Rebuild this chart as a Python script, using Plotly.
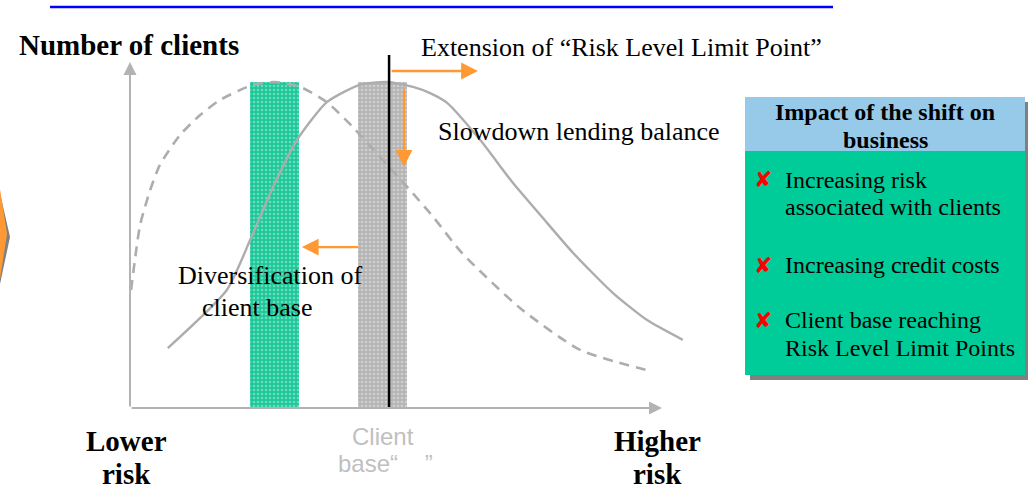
import plotly.graph_objects as go

# ---- data: client distribution over risk (risk 0-100, clients 0-100) ----
# current distribution (dashed) and shifted distribution (solid)
risk_current = [0.2, 1.9, 3.8, 5.6, 9.4, 13.2, 16.9, 23.1, 27.3, 32.0, 37.0, 41.9,
                47.0, 52.1, 57.0, 62.4, 73.3, 84.6, 97.7]
clients_current = [34.1, 52.9, 63.0, 70.2, 78.9, 84.7, 89.0, 93.4, 94.2, 92.8, 88.4,
                   81.2, 72.5, 63.9, 55.2, 44.8, 28.9, 16.8, 10.7]

risk_shifted = [7.1, 18.2, 22.6, 26.9, 31.4, 37.0, 43.2, 48.3, 53.2, 56.4, 59.6,
                65.8, 72.0, 78.4, 83.3, 90.8, 97.2, 103.9]
clients_shifted = [17.3, 34.1, 48.6, 63.9, 77.5, 88.4, 93.4, 94.2, 92.8, 91.0, 88.2,
                   77.5, 65.0, 53.5, 44.8, 33.2, 25.4, 19.7]

# client base bands: diversified (green) and current base (grey)
band_centers = [27.2, 47.5]
band_widths = [9.2, 9.2]
band_heights = [94.2, 94.2]
band_colors = ["#1CC898", "#B5B5B5"]

# risk level limit point
limit_point = 48.7
limit_top = 102.0

# arrows: (head_x, head_y, tail_x, tail_y)
shift_arrows = [
    (65.4, 97.4, 48.9, 97.4),   # extension of the limit point
    (51.5, 69.7, 51.5, 92.5),   # slowdown of lending balance
    (32.3, 46.5, 43.2, 46.5),   # diversification of client base
]

title_y = "Number of clients"
limit_label = "Extension of \u201cRisk Level Limit Point\u201d"
slowdown_label = "Slowdown lending balance"
divers_label = ["Diversification of", "client base"]
axis_low = ["Lower", "risk"]
axis_high = ["Higher", "risk"]
base_label = ["Client", "base\u201c    \u201d"]

box_title = ["Impact of the shift on", "business"]
box_items = [["Increasing risk", "associated with clients"],
             ["Increasing credit costs"],
             ["Client base reaching", "Risk Level Limit Points"]]

# ---- figure geometry ----
W, H = 1028, 490
X0, X100 = 130, 662      # pixel columns of risk 0 and 100
Y0, Y100 = 408, 62       # pixel rows of clients 0 and 100
sx = (X100 - X0) / 100
sy = (Y0 - Y100) / 100
x_range = [-X0 / sx, (W - X0) / sx]
y_range = [-(H - Y0) / sy, Y0 / sy]


def px(x):
    return x / W


def py(y):
    return 1 - y / H


SERIF = "Liberation Serif, Times New Roman, serif"
SANS = "Liberation Sans, Arial, sans-serif"
GREY = "#ADADAD"
ORANGE = "#FF9933"

fig = go.Figure()

# client base bands with speckled texture
for c, w, h, col in zip(band_centers, band_widths, band_heights, band_colors):
    fig.add_trace(go.Bar(
        x=[c], y=[h], width=[w],
        marker=dict(color=col, line=dict(width=0),
                    pattern=dict(shape=".", fgcolor="rgba(255,255,255,0.7)",
                                 size=4, solidity=0.35, fillmode="overlay")),
        hoverinfo="skip", showlegend=False))

fig.add_trace(go.Scatter(
    x=risk_current, y=clients_current, mode="lines",
    line=dict(color=GREY, width=2.6, dash="10px,7px", shape="spline", smoothing=0.6),
    hoverinfo="skip", showlegend=False))

fig.add_trace(go.Scatter(
    x=risk_shifted, y=clients_shifted, mode="lines",
    line=dict(color=GREY, width=2.4, shape="spline", smoothing=0.6),
    hoverinfo="skip", showlegend=False))

shapes = []
annotations = []

# limit point marker
shapes.append(dict(type="line", xref="x", yref="y", x0=limit_point, x1=limit_point,
                   y0=0, y1=limit_top, line=dict(color="black", width=2.5)))

# axes drawn as arrows
annotations.append(dict(x=0, y=100, ax=0, ay=0, xref="x", yref="y", axref="x", ayref="y",
                        text="", showarrow=True, arrowhead=2, arrowsize=1.3,
                        arrowwidth=2, arrowcolor="#B3B3B3", standoff=0))
annotations.append(dict(x=100, y=0, ax=0, ay=0, xref="x", yref="y", axref="x", ayref="y",
                        text="", showarrow=True, arrowhead=2, arrowsize=1.3,
                        arrowwidth=2, arrowcolor="#B3B3B3", standoff=0))

for hx, hy, tx, ty in shift_arrows:
    annotations.append(dict(x=hx, y=hy, ax=tx, ay=ty, xref="x", yref="y",
                            axref="x", ayref="y", text="", showarrow=True,
                            arrowhead=2, arrowsize=1.4, arrowwidth=2.4,
                            arrowcolor=ORANGE, standoff=0))


def label(text, x, y, size, xanchor="center", bold=False, color="black", family=SERIF):
    t = f"<b>{text}</b>" if bold else text
    annotations.append(dict(x=px(x), y=py(y), xref="paper", yref="paper", text=t,
                            showarrow=False, xanchor=xanchor, yanchor="middle",
                            font=dict(family=family, size=size, color=color)))


# top rule
shapes.append(dict(type="line", xref="paper", yref="paper", x0=px(50), x1=px(833),
                   y0=py(7), y1=py(7), line=dict(color="#0000FF", width=2.5)))

# chevron on the left edge with shadow
shapes.append(dict(type="path", xref="paper", yref="paper",
                   path=f"M {px(0)},{py(193)} L {px(10)},{py(237)} L {px(0)},{py(284)} Z",
                   fillcolor="#808080", line=dict(width=0)))
shapes.append(dict(type="path", xref="paper", yref="paper",
                   path=f"M {px(0)},{py(189)} L {px(7)},{py(234)} L {px(0)},{py(279)} Z",
                   fillcolor="#FF9933", line=dict(width=0)))

# text labels of the chart
label(title_y, 17, 45, 29, xanchor="left", bold=True)
label(limit_label, 419, 47, 26, xanchor="left")
label(slowdown_label, 436, 131, 26, xanchor="left")
label(divers_label[0], 270, 275, 26)
label(divers_label[1], 257, 307, 26)
label(axis_low[0], 126, 441, 29, bold=True)
label(axis_low[1], 126, 474, 29, bold=True)
label(axis_high[0], 657, 441, 29, bold=True)
label(axis_high[1], 657, 474, 29, bold=True)
label(base_label[0], 383, 436, 24, color="#C0C0C0", family=SANS)
label(base_label[1], 385, 463, 24, color="#C0C0C0", family=SANS)

# impact box with shadow
shapes.append(dict(type="rect", xref="paper", yref="paper", x0=px(750), x1=px(1028),
                   y0=py(380), y1=py(102), fillcolor="#808080", line=dict(width=0)))
shapes.append(dict(type="rect", xref="paper", yref="paper", x0=px(745), x1=px(1025),
                   y0=py(151), y1=py(97), fillcolor="#97C9E9", line=dict(width=0)))
shapes.append(dict(type="rect", xref="paper", yref="paper", x0=px(745), x1=px(1025),
                   y0=py(375), y1=py(151), fillcolor="#00CC99", line=dict(width=0)))

label(box_title[0], 885, 112, 24, bold=True)
label(box_title[1], 885, 140, 24, bold=True)

item_rows = [[180, 207], [265], [320, 348]]
for lines, rows in zip(box_items, item_rows):
    annotations.append(dict(x=px(763), y=py(rows[0]), xref="paper", yref="paper",
                            text="\u2718", showarrow=False, xanchor="center",
                            yanchor="middle",
                            font=dict(family="DejaVu Sans", size=22, color="#FF0000")))
    for text, row in zip(lines, rows):
        label(text, 783, row, 24, xanchor="left")

fig.update_layout(
    width=W, height=H,
    margin=dict(l=0, r=0, t=0, b=0),
    paper_bgcolor="white", plot_bgcolor="white",
    xaxis=dict(range=x_range, visible=False, fixedrange=True),
    yaxis=dict(range=y_range, visible=False, fixedrange=True),
    barmode="overlay", bargap=0,
    shapes=shapes, annotations=annotations,
    showlegend=False,
)

fig.write_html("out.html")
